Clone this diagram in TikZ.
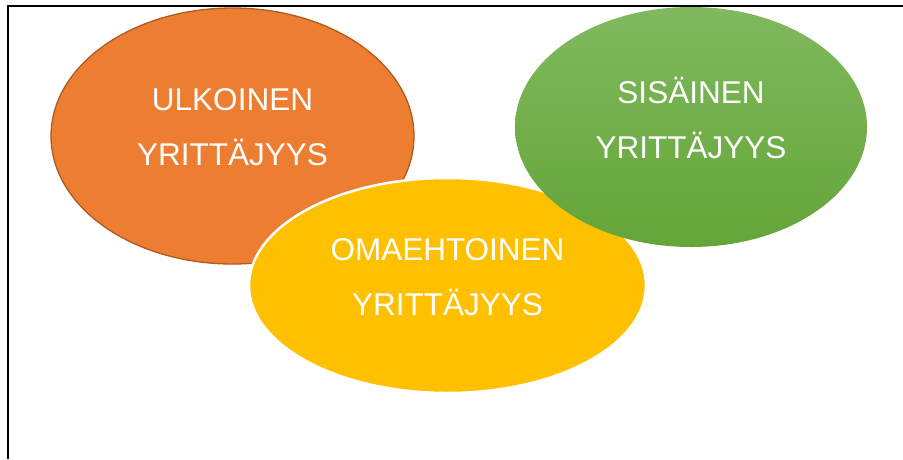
\documentclass[tikz,border=0pt]{standalone}
\usepackage{fontspec}
\setmainfont{Liberation Sans}
\usepackage{tikz}
\usetikzlibrary{shapes.geometric}
\definecolor{orangefill}{HTML}{ED7D31}
\definecolor{orangeline}{HTML}{AE5A21}
\definecolor{yellowfill}{HTML}{FFC000}
\definecolor{greentop}{HTML}{80B95E}
\definecolor{greenbottom}{HTML}{64A538}

\begin{document}
\begin{tikzpicture}[x=1pt,y=-1pt,
  blob/.style={ellipse,inner sep=0pt,align=center,text=white,text depth=18pt,
    font=\fontsize{31.5}{55}\selectfont}]

  \useasboundingbox (0,0) rectangle (903,459);

  % frame
  \draw[line width=2pt] (7.5,459) -- (7.5,5.5) -- (903,5.5);

  \node[blob,fill=orangefill,draw=orangeline,line width=1.3pt,
    minimum width=363,minimum height=256] (ulkoinen) at (232.5,136) {ULKOINEN\\YRITTÄJYYS};

  \node[blob,fill=yellowfill,draw=white,line width=2.5pt,
    minimum width=397,minimum height=215] (omaehtoinen) at (447.5,285.5) {OMAEHTOINEN\\YRITTÄJYYS};

  \node[blob,top color=greentop,bottom color=greenbottom,
    minimum width=352,minimum height=240] (sisainen) at (691,127) {SISÄINEN\\YRITTÄJYYS};

\end{tikzpicture}
\end{document}
